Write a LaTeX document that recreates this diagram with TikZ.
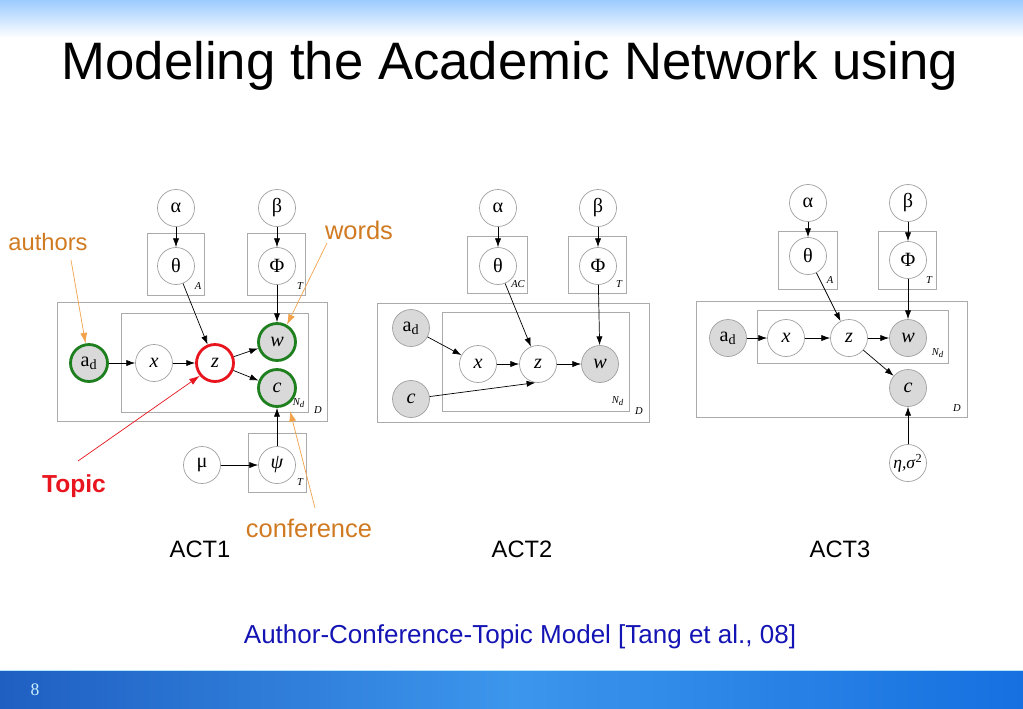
\documentclass[tikz,border=0pt]{standalone}
\usepackage{fontspec}
\setmainfont{Liberation Sans}
\newfontfamily\modelfont{Liberation Serif}
\usetikzlibrary{arrows.meta}

\definecolor{plategray}{HTML}{ABABAB}
\definecolor{nodegray}{HTML}{A0A0A0}
\definecolor{obsgray}{HTML}{D9D9D9}
\definecolor{hlgreen}{HTML}{1E7F1E}
\definecolor{hlred}{HTML}{E8141E}
\definecolor{notetext}{HTML}{D07A22}
\definecolor{noteline}{HTML}{F2A24A}
\definecolor{citeblue}{HTML}{1414B4}
\definecolor{skyblue}{HTML}{9CCBFF}
\definecolor{bandleft}{HTML}{1F5FC2}
\definecolor{bandmid}{HTML}{3C96EC}
\definecolor{bandright}{HTML}{1670E0}

\begin{document}
\begin{tikzpicture}[x=0.02cm, y=-0.02cm,
    var/.style={circle, draw=nodegray, thin, fill=white, minimum size=0.74cm,
                inner sep=0pt, font=\modelfont\fontsize{11.5}{13}\selectfont},
    obs/.style={var, fill=obsgray},
    mark green/.style={draw=hlgreen, line width=1.6pt},
    plate/.style={draw=plategray, thin},
    platelbl/.style={font=\modelfont\itshape\fontsize{6}{7}\selectfont, inner sep=0pt},
    edge/.style={-{Latex[length=5pt,width=3.5pt]}, thin},
    note/.style={font=\fontsize{14.5}{17}\selectfont, text=notetext, anchor=base},
    notearrow/.style={-{Latex[length=6pt,width=4pt]}, draw=noteline, thin},
    caption/.style={font=\fontsize{13.5}{16}\selectfont, anchor=base}]

  \useasboundingbox (0,0) rectangle (1023,708);

  % Slide background
  \shade[top color=skyblue, bottom color=white] (0,0) rectangle (1023,38);
  \shade[left color=bandleft, right color=bandright, middle color=bandmid]
    (0,670) rectangle (1023,708);
  \draw[white!70!cyan, thin] (0,670) -- (1023,670);
  \node[font=\modelfont\fontsize{10}{12}\selectfont, text=white!80!cyan] (pagenum) at (35,690) {8};

  % Title
  \node[anchor=base, font=\fontsize{30}{34}\selectfont] (title) at (510,79)
    {Modeling the Academic Network using};

  % ---------------- ACT1 ----------------
  \draw[plate] (147,233) rectangle (204,295);
  \draw[plate] (247,233) rectangle (305,295);
  \draw[plate] (57,302) rectangle (327,421);
  \draw[plate] (121,313) rectangle (308,412);
  \draw[plate] (248,433) rectangle (306,492);

  \node[var] (alpha1) at (176,208) {α};
  \node[var] (beta1)  at (277,208) {β};
  \node[var] (theta1) at (176,266) {θ};
  \node[var] (phi1)   at (277,266) {Φ};
  \node[obs, mark green] (ad1) at (89,363) {a\textsubscript{d}};
  \node[var] (x1) at (154,363) {\textit{x}};
  \node[var, draw=hlred, line width=1.6pt] (z1) at (215,363) {\textit{z}};
  \node[obs, mark green] (w1) at (277,342) {\textit{w}};
  \node[obs, mark green] (c1) at (277,388) {\textit{c}};
  \node[var] (mu1)  at (202,465) {μ};
  \node[var] (psi1) at (277,465) {\textit{ψ}};

  \draw[edge] (alpha1) -- (theta1);
  \draw[edge] (beta1) -- (phi1);
  \draw[edge] (theta1) -- (z1);
  \draw[edge] (phi1) -- (w1);
  \draw[edge] (ad1) -- (x1);
  \draw[edge] (x1) -- (z1);
  \draw[edge] (z1) -- (w1);
  \draw[edge] (z1) -- (c1);
  \draw[edge] (mu1) -- (psi1);
  \draw[edge] (psi1) -- (c1);

  % ---------------- ACT2 ----------------
  \draw[plate] (467,236) rectangle (527,293);
  \draw[plate] (568,236) rectangle (626,293);
  \draw[plate] (377,303) rectangle (649,422);
  \draw[plate] (442,312) rectangle (629,411);

  \node[var] (alpha2) at (498,208) {α};
  \node[var] (beta2)  at (598,208) {β};
  \node[var] (theta2) at (498,266) {θ};
  \node[var] (phi2)   at (598,266) {Φ};
  \node[obs] (ad2) at (411,328) {a\textsubscript{d}};
  \node[obs] (c2)  at (411,399) {\textit{c}};
  \node[var] (x2) at (478,364) {\textit{x}};
  \node[var] (z2) at (538,364) {\textit{z}};
  \node[obs] (w2) at (600,364) {\textit{w}};

  \draw[edge] (alpha2) -- (theta2);
  \draw[edge] (beta2) -- (phi2);
  \draw[edge] (theta2) -- (z2);
  \draw[edge] (phi2) -- (w2);
  \draw[edge] (ad2) -- (x2);
  \draw[edge] (x2) -- (z2);
  \draw[edge] (z2) -- (w2);
  \draw[edge] (c2) -- (z2.262);

  % ---------------- ACT3 ----------------
  \draw[plate] (778,231) rectangle (837,289);
  \draw[plate] (878,231) rectangle (936,289);
  \draw[plate] (696,301) rectangle (967,417);
  \draw[plate] (757,310) rectangle (948,363);

  \node[var] (alpha3) at (808,203) {α};
  \node[var] (beta3)  at (908,203) {β};
  \node[var] (theta3) at (808,256) {θ};
  \node[var] (phi3)   at (908,260) {Φ};
  \node[obs] (ad3) at (728,338) {a\textsubscript{d}};
  \node[var] (x3) at (786,338) {\textit{x}};
  \node[var] (z3) at (849,338) {\textit{z}};
  \node[obs] (w3) at (908,338) {\textit{w}};
  \node[obs] (c3) at (908,388) {\textit{c}};
  \node[var, font=\modelfont\fontsize{10}{12}\selectfont] (eta3) at (908,463) {\textit{η,σ}\textsuperscript{2}};

  \draw[edge] (alpha3) -- (theta3);
  \draw[edge] (beta3) -- (phi3);
  \draw[edge] (theta3) -- (z3);
  \draw[edge] (phi3) -- (w3);
  \draw[edge] (ad3) -- (x3);
  \draw[edge] (x3) -- (z3);
  \draw[edge] (z3) -- (w3);
  \draw[edge] (z3) -- (c3);
  \draw[edge] (eta3) -- (c3);

  % Plate labels
  \foreach \px/\py/\ptext in {198/286/A, 300/286/T, 318/410/D, 300/482/T,
      518/284/AC, 619/284/T, 639/411/D,
      830/280/A, 929/280/T, 957/408/D} {
    \node[platelbl] at (\px,\py) {\ptext};
  }
  \foreach \px/\py in {299/403, 618/401, 938/353} {
    \node[platelbl] at (\px,\py) {N\textsubscript{d}};
  }

  % Annotations
  \node[note, font=\fontsize{13.5}{16}\selectfont] (authors) at (48,250) {authors};
  \node[note] (words) at (359,239) {words};
  \node[note] (conference) at (309,537) {conference};
  \node[anchor=base, text=hlred, font=\bfseries\fontsize{14}{17}\selectfont] (topic) at (74,492) {Topic};

  \coordinate (authorstail) at (71,260);
  \coordinate (wordstail) at (327,243);
  \coordinate (conftail) at (315,508);
  \coordinate (confhead) at (290,411);
  \coordinate (topictail) at (78,461);
  \draw[notearrow] (authorstail) -- (ad1.100);
  \draw[notearrow] (wordstail) -- (w1.60);
  \draw[notearrow] (conftail) -- (confhead);
  \draw[-{Latex[length=6pt,width=4pt]}, hlred, thin] (topictail) -- (z1.220);

  % Captions
  \node[caption] (act1) at (200,557) {ACT1};
  \node[caption] (act2) at (522,557) {ACT2};
  \node[caption] (act3) at (840,557) {ACT3};
  \node[caption, text=citeblue, font=\fontsize{14.8}{17}\selectfont] (cite) at (520,643)
    {Author-Conference-Topic Model [Tang et al., 08]};
\end{tikzpicture}
\end{document}
